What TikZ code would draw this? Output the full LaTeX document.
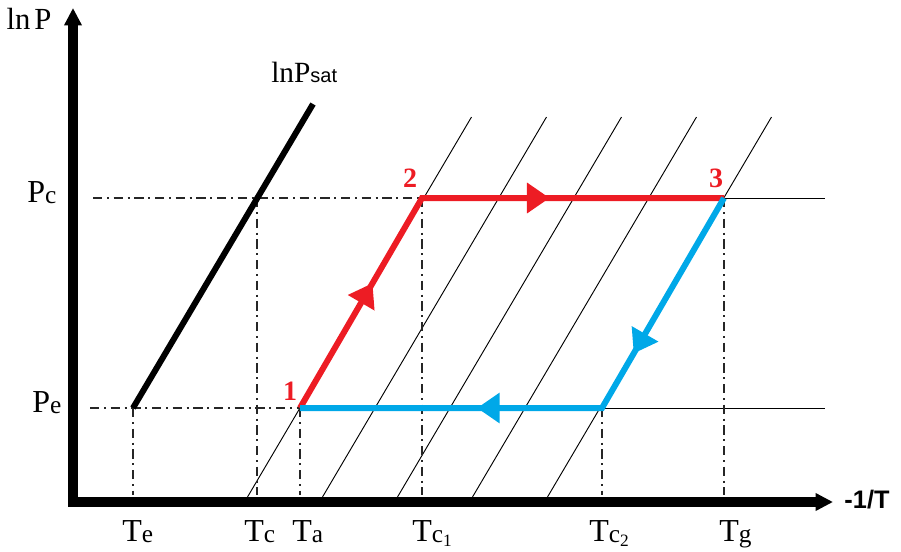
\documentclass[tikz,border=0pt]{standalone}
\usepackage{fontspec}
\setmainfont{Liberation Serif}
\newfontfamily\arialfont{Liberation Sans}
\usepackage{xcolor}
\usetikzlibrary{arrows.meta, positioning, calc, decorations.markings}

\definecolor{cycred}{RGB}{237,28,36}
\definecolor{cycblue}{RGB}{0,168,232}

\newcommand{\lsub}[1]{\raisebox{-1pt}{\fontsize{19pt}{19pt}\selectfont #1}}
\newcommand{\nsub}[1]{\raisebox{-4pt}{\fontsize{13pt}{13pt}\selectfont #1}}

\begin{document}
\begin{tikzpicture}[
            x=0.75pt,
            y=-0.75pt,
            >=stealth,
            axisline/.style={line width=7pt, line join=miter},
            guideline/.style={black!85, line width=1.8pt, dash pattern=on 7pt off 3.5pt on 1.5pt off 3.5pt},
            isoline/.style={black, line width=0.7pt},
            satline/.style={black, line width=4.5pt},
            cycline/.style={line width=4.5pt, line join=miter},
            lbl/.style={inner sep=0pt, anchor=base west, font=\fontsize{24pt}{24pt}\selectfont},
            ptlbl/.style={inner sep=0pt, text=cycred, font=\fontsize{21pt}{21pt}\selectfont\bfseries},
            cycarrows/.style 2 args={postaction={decorate}, decoration={markings,
                mark=at position #1 with {\arrow{Triangle[length=17pt, width=22pt]}},
                mark=at position #2 with {\arrow{Triangle[length=17pt, width=22pt]}}}}
            ]
            \useasboundingbox (0,0) rectangle (901,551);

            % 坐标点
            \coordinate (O) at (73,502);
            \coordinate (ytip) at (73,8);
            \coordinate (xtip) at (833,502);
            \coordinate (p1) at (300,408);
            \coordinate (p2) at (422,198);
            \coordinate (p3) at (724,198);
            \coordinate (p4) at (602,408);
            \coordinate (satlo) at (133,408);
            \coordinate (sathi) at (313,104);
            \coordinate (pcstart) at (93,198);
            \coordinate (pestart) at (90,408);
            \coordinate (pcend) at (825,198);
            \coordinate (peend) at (825,408);

            % 等浓度线
            \foreach \i in {0,...,4}
                \draw[isoline] ({247.5+75*\i},497) -- ++(224,-380);
            \draw[isoline] (p3) -- (pcend);
            \draw[isoline] (p4) -- (peend);

            % 辅助线
            \draw[guideline] (pcstart) -- (p2);
            \draw[guideline] (pestart) -- (p1);
            \foreach \x/\y in {133/408, 257/198, 300/408, 422/198, 602/408, 724/198}
                \draw[guideline] (\x,\y) -- (\x,495);

            % 饱和线
            \draw[satline] (satlo) -- (sathi);

            % 循环
            \draw[cycline, cycred, cycarrows={0.265}{0.68}] (p1) -- (p2) -- (p3);
            \draw[cycline, cycblue, cycarrows={0.33}{0.675}] (p3) -- (p4) -- (p1);

            % 坐标轴
            \draw[axisline, {Triangle[length=13pt, width=12.5pt]}-{Triangle[length=13pt, width=12.5pt]}] (ytip) -- (O) -- (xtip);

            % 标注
            \node[inner sep=0pt, font=\fontsize{23pt}{23pt}\selectfont] (lnp) at (29,19) {ln\hspace{3pt}P};
            \node[lbl, font=\fontsize{22pt}{22pt}\selectfont] (lnpsat) at (271,82) {lnP{\arialfont\fontsize{15pt}{15pt}\selectfont sat}};
            \node[inner sep=0pt, font=\arialfont\bfseries\fontsize{19pt}{19pt}\selectfont] (xlbl) at (867,500) {-1/T};

            \node[lbl] (pc) at (27,202) {P\lsub{c}};
            \node[lbl] (pe) at (32,412) {P\lsub{e}};

            \node[lbl] (te) at (122,541) {T\lsub{e}};
            \node[lbl] (tc) at (244,541) {T\lsub{c}};
            \node[lbl] (ta) at (292,541) {T\lsub{a}};
            \node[lbl] (tc1) at (412,541) {T\lsub{c}\nsub{1}};
            \node[lbl] (tc2) at (589,541) {T\lsub{c}\nsub{2}};
            \node[lbl] (tg) at (719,541) {T\lsub{g}};

            \node[ptlbl] (n1) at (290,391) {1};
            \node[ptlbl] (n2) at (410,178) {2};
            \node[ptlbl] (n3) at (716,178) {3};
        \end{tikzpicture}
\end{document}
